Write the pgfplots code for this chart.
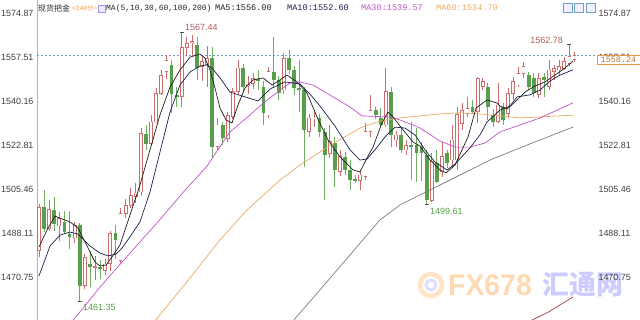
\documentclass[border=0pt]{standalone}
\usepackage{pgfplots}
\pgfplotsset{compat=1.18}
\usepackage{pgfplotstable}
\usepackage{fontspec}
\setmainfont{Liberation Sans}
\newfontfamily\cjk{Noto Sans CJK SC}
\newfontfamily\monof{Liberation Mono}
\definecolor{upred}{RGB}{206,108,108}
\definecolor{dngreen}{RGB}{88,158,76}
\definecolor{wickgreen}{RGB}{112,172,98}
\definecolor{maA}{RGB}{30,30,30}
\definecolor{maB}{RGB}{25,30,75}
\definecolor{maC}{RGB}{196,80,204}
\definecolor{maD}{RGB}{232,170,100}
\definecolor{maE}{RGB}{125,125,125}
\definecolor{maF}{RGB}{160,60,60}
\definecolor{hdrorange}{RGB}{238,150,60}
\definecolor{dashblue}{RGB}{110,160,200}

\pgfplotsset{candle/.style={only marks, mark=*, mark size=0pt, mark options={draw=none, fill=none}, forget plot,
  error bars/.cd, y dir=both, y explicit, error mark=none}}

\pgfplotstableread{
i o h l c
0 1481.3 1499.5 1478.6 1498.4
2 1489.9 1501.1 1489.2 1497.4
4 1491.0 1496.5 1485.0 1494.0
7 1486.3 1492.5 1484.1 1491.2
9 1467.5 1480.0 1466.2 1478.7
11 1474.7 1479.3 1469.5 1474.9
13 1473.5 1478.0 1471.5 1476.0
14 1476.2 1489.2 1473.4 1488.0
16 1477.4 1498.0 1476.6 1496.0
17 1496.0 1501.5 1494.0 1499.1
18 1499.1 1505.8 1497.9 1503.0
19 1502.5 1507.8 1500.0 1504.0
20 1504.4 1529.5 1503.0 1527.4
22 1523.5 1534.7 1522.5 1532.0
23 1532.0 1545.3 1531.5 1543.2
24 1543.2 1552.5 1542.5 1550.5
25 1551.8 1558.4 1549.0 1556.4
28 1542.0 1567.44 1538.0 1561.5
29 1561.3 1565.5 1558.4 1563.0
30 1563.3 1566.5 1558.0 1563.7
32 1553.8 1558.0 1548.0 1555.8
33 1554.8 1562.0 1546.0 1557.1
35 1522.3 1533.6 1521.0 1530.8
37 1525.5 1536.0 1524.0 1534.5
38 1534.1 1545.5 1533.0 1544.0
39 1544.0 1556.4 1543.0 1553.3
41 1546.5 1550.0 1543.0 1547.0
42 1547.3 1551.5 1545.0 1549.2
45 1534.8 1553.5 1533.6 1551.8
48 1544.6 1559.2 1543.0 1557.2
53 1528.2 1535.0 1526.0 1533.6
54 1533.2 1536.5 1530.0 1533.6
57 1519.7 1530.8 1518.0 1524.2
59 1512.4 1521.0 1510.7 1518.3
63 1509.1 1513.1 1505.2 1511.1
64 1510.4 1531.6 1509.0 1528.2
65 1528.2 1542.6 1526.0 1536.7
68 1530.8 1553.2 1530.0 1544.0
70 1524.9 1528.4 1522.3 1526.9
72 1521.0 1525.0 1519.0 1522.9
77 1501.2 1519.7 1500.6 1516.3
79 1512.4 1524.2 1510.4 1518.3
81 1517.0 1530.8 1514.4 1524.9
82 1517.0 1538.0 1513.1 1534.8
83 1531.5 1539.4 1528.8 1536.7
84 1535.4 1542.0 1534.1 1537.4
86 1536.1 1549.9 1531.5 1549.2
87 1545.9 1549.4 1544.6 1547.9
90 1532.1 1547.3 1531.5 1538.7
92 1535.4 1545.3 1533.5 1543.3
93 1543.3 1549.9 1540.7 1547.9
94 1546.6 1553.8 1545.9 1551.2
95 1551.2 1555.8 1549.2 1553.8
98 1542.7 1551.2 1541.4 1549.2
100 1545.9 1556.5 1544.6 1552.5
101 1551.8 1554.5 1548.6 1553.2
102 1552.5 1556.5 1550.5 1553.8
103 1553.2 1557.8 1552.5 1555.8
104 1555.2 1562.78 1554.0 1557.8
105 1556.5 1559.5 1555.5 1558.24
}\upc

\pgfplotstableread{
i o h l c
1 1498.4 1505.0 1488.5 1489.9
3 1497.4 1502.4 1489.2 1491.6
5 1492.5 1497.1 1487.9 1488.6
6 1488.0 1497.0 1482.0 1486.8
8 1491.2 1492.0 1461.35 1467.5
10 1476.0 1481.3 1466.8 1475.0
12 1474.8 1477.5 1470.0 1474.4
15 1488.1 1491.2 1478.0 1485.3
21 1527.4 1530.7 1520.8 1523.5
26 1554.4 1556.4 1535.5 1543.2
27 1542.5 1546.0 1538.0 1541.8
31 1562.3 1565.5 1548.5 1553.1
34 1557.1 1561.6 1517.8 1522.3
36 1530.8 1532.0 1523.0 1525.6
40 1553.3 1555.0 1543.5 1545.9
43 1548.8 1552.5 1544.6 1548.4
44 1545.9 1548.0 1530.8 1535.4
46 1551.8 1565.6 1546.0 1548.6
47 1548.6 1550.0 1540.7 1543.3
49 1557.2 1560.4 1551.0 1552.5
50 1552.5 1554.0 1542.7 1545.3
51 1545.3 1556.5 1536.1 1544.8
52 1544.6 1546.0 1514.4 1528.9
55 1533.6 1535.0 1526.0 1528.2
56 1528.2 1529.5 1501.2 1519.0
58 1523.7 1526.0 1506.5 1513.1
60 1518.3 1520.0 1511.0 1513.1
61 1513.1 1517.0 1505.2 1509.1
62 1509.3 1511.1 1507.9 1509.0
66 1536.7 1538.0 1533.0 1534.8
67 1533.6 1537.5 1530.0 1530.8
69 1544.0 1545.9 1522.3 1526.9
71 1526.9 1529.6 1519.8 1521.0
73 1522.9 1532.1 1509.1 1522.1
74 1522.9 1529.6 1508.5 1519.8
75 1522.3 1524.0 1508.7 1519.7
76 1519.0 1521.0 1499.61 1501.2
78 1515.8 1521.0 1507.8 1508.5
80 1519.7 1521.0 1514.0 1515.7
85 1537.8 1540.7 1535.4 1536.1
88 1545.9 1547.4 1532.8 1538.0
89 1534.8 1537.0 1530.0 1532.1
91 1538.0 1539.4 1530.8 1532.8
96 1550.5 1551.8 1544.6 1545.9
97 1549.2 1551.2 1542.0 1543.3
99 1549.9 1551.2 1542.0 1548.6
}\dnc

\pgfplotstableread{
x y
0 1482.7
1.76 1490.2
3.14 1494.9
4.12 1494.1
6.08 1492.6
7.65 1490.2
9.02 1484.7
10.98 1476.8
11.96 1475.2
13.14 1475.6
14.31 1478.8
15.88 1483.5
17.84 1495.3
19.8 1507.2
21.76 1521.0
23.73 1534.8
25.69 1545.8
27.65 1552.5
29.61 1557.6
31.57 1558.8
32.55 1557.2
33.53 1552.5
34.51 1545.4
35.49 1537.5
36.67 1532.8
37.84 1531.6
39.02 1538.7
40.39 1545.4
41.96 1548.6
43.92 1549.4
45.69 1546.6
47.25 1548.6
48.63 1550.5
50.59 1547.8
52.55 1543.4
54.51 1534.0
56.67 1524.9
59.02 1518.2
61.57 1513.1
62.94 1512.3
64.31 1517.8
65.49 1522.1
67.25 1531.6
68.43 1535.9
69.41 1534.0
71.37 1528.9
73.33 1524.1
74.71 1522.5
76.67 1517.0
78.63 1513.1
79.8 1511.9
81.57 1515.0
82.94 1521.0
84.12 1526.1
85.69 1537.5
87.84 1540.7
89.8 1539.5
90.39 1538.3
91.76 1537.1
93.33 1539.9
95.29 1543.8
97.25 1546.2
99.22 1547.8
101.18 1550.5
103.14 1553.3
104.71 1556.0
}\maFive

\pgfplotstableread{
x y
0 1471.3
2.16 1483.1
4.12 1487.4
6.08 1488.6
7.65 1487.8
10.0 1483.1
11.96 1480.3
13.53 1479.2
15.1 1479.9
16.27 1482.3
17.84 1486.7
19.8 1492.6
21.76 1504.4
23.73 1520.2
25.69 1535.9
27.65 1546.6
29.61 1551.7
31.57 1554.1
32.94 1554.5
33.92 1553.3
35.49 1549.4
37.45 1543.8
40.39 1541.9
42.94 1540.3
45.29 1545.0
48.24 1547.8
51.18 1547.0
53.14 1543.0
55.1 1538.3
58.04 1530.4
60.98 1521.0
62.94 1517.0
64.31 1517.4
65.88 1521.0
67.84 1526.1
69.8 1530.0
71.76 1529.6
73.73 1526.9
75.69 1521.0
77.65 1516.2
80.0 1513.1
81.57 1515.4
84.51 1521.8
86.47 1526.9
87.84 1532.0
90.39 1536.7
92.35 1538.3
93.73 1541.9
96.27 1542.7
98.24 1544.6
100.2 1548.2
102.16 1550.5
104.71 1552.6
}\maTen

\pgfplotstableread{
x y
6.08 1452.3
11.96 1466.9
17.84 1480.3
23.14 1492.2
29.02 1506.0
32.94 1514.6
37.45 1528.1
41.37 1534.8
44.71 1540.7
49.22 1547.4
51.18 1547.8
53.73 1546.6
57.65 1541.9
60.98 1537.9
63.33 1534.4
68.82 1534.0
70.78 1532.8
73.33 1530.8
74.71 1529.6
78.63 1524.5
81.57 1522.1
84.51 1522.1
87.45 1523.7
90.39 1528.1
94.31 1530.8
98.24 1533.6
101.18 1536.3
104.71 1539.57
}\maThirty

\pgfplotstableread{
x y
22.55 1453.1
29.61 1470.5
35.49 1485.5
40.78 1497.3
47.25 1509.1
51.18 1515.0
56.86 1522.5
62.94 1529.6
66.86 1532.4
70.78 1533.6
74.71 1534.4
78.63 1535.2
82.55 1535.6
86.47 1535.2
90.39 1534.4
94.31 1533.6
98.24 1534.0
104.71 1534.7
}\maSixty

\pgfplotstableread{
x y
49.61 1453.1
55.1 1465.8
60.98 1479.6
66.86 1493.4
70.78 1499.3
76.67 1505.2
82.55 1511.1
88.43 1517.0
94.31 1521.8
99.22 1525.7
104.71 1530.0
}\maHundred

\pgfplotstableread{
x y
95.88 1453.1
100.0 1457.2
104.71 1463.0
}\maTwoHundred

\begin{document}
\begin{tikzpicture}[x=1bp,y=1bp]
\useasboundingbox (-37bp,0) rectangle (603bp,320bp);
% watermark
\draw[line width=4.5bp, color=orange!22] (394,35) circle (11);
\draw[line width=3bp, color=blue!13] (394,35) circle (5);
\node[font=\bfseries\fontsize{30}{30}\selectfont, text=orange!30, xscale=0.95] at (453,35) {FX678};
\node[font=\cjk\bfseries\fontsize{27}{27}\selectfont, text=blue!20] at (546,35) {汇通网};

\begin{axis}[
  at={(0,0)}, anchor=south west, scale only axis,
  width=558bp, height=320bp,
  xmin=-0.392, xmax=109.02, ymin=1453.92, ymax=1580.115,
  axis x line=none,
  axis y line*=left,
  y axis line style={draw=black!30, line width=0.6bp, -},
  ytick={1470.75,1488.11,1505.46,1522.81,1540.16,1557.51,1574.87},
  yticklabels={1470.75,1488.11,1505.46,1522.81,1540.16,1557.51,1574.87},
  major tick length=0pt,
  yticklabel style={font=\fontsize{9}{9}\selectfont, text=black!75},
]
% current price line
\draw[dashblue, dash pattern=on 2bp off 2bp, line width=0.6bp] (axis cs:-0.392,1558.24) -- (axis cs:109.02,1558.24);
% up candles
\addplot[candle, error bar style={draw=upred, line width=0.8bp}]
  table[x=i, y expr={(\thisrow{h}+\thisrow{l})/2}, y error expr={(\thisrow{h}-\thisrow{l})/2}] {\upc};
\addplot[candle, error bar style={draw=upred, line width=3.8bp}]
  table[x=i, y expr={(\thisrow{o}+\thisrow{c})/2}, y error expr={abs(\thisrow{c}-\thisrow{o})/2+0.16}] {\upc};
\addplot[candle, error bar style={draw=white, line width=2.2bp}]
  table[x=i, y expr={(\thisrow{o}+\thisrow{c})/2}, y error expr={max(abs(\thisrow{c}-\thisrow{o})/2-0.16,0.001)}] {\upc};
% down candles
\addplot[candle, error bar style={draw=wickgreen, line width=0.8bp}]
  table[x=i, y expr={(\thisrow{h}+\thisrow{l})/2}, y error expr={(\thisrow{h}-\thisrow{l})/2}] {\dnc};
\addplot[candle, error bar style={draw=dngreen, line width=3.8bp}]
  table[x=i, y expr={(\thisrow{o}+\thisrow{c})/2}, y error expr={max(abs(\thisrow{c}-\thisrow{o})/2,0.25)}] {\dnc};
% moving averages
\addplot[maF, line width=0.7bp, mark=none] table[x=x,y=y] {\maTwoHundred};
\addplot[maE, line width=0.7bp, mark=none] table[x=x,y=y] {\maHundred};
\addplot[maD, line width=0.7bp, mark=none] table[x=x,y=y] {\maSixty};
\addplot[maC, line width=0.7bp, mark=none] table[x=x,y=y] {\maThirty};
\addplot[maB, line width=0.7bp, mark=none] table[x=x,y=y] {\maTen};
\addplot[maA, line width=0.7bp, mark=none] table[x=x,y=y] {\maFive};
% extreme annotations
\draw[black!70, line width=0.6bp] (axis cs:27.6,1567.44) -- (axis cs:28.4,1567.44);
\node[anchor=west, inner sep=0pt, text=upred!85!black, font=\fontsize{9}{9}\selectfont] at (axis cs:28.63,1569.47) {1567.44};
\draw[black!70, line width=0.6bp] (axis cs:7.6,1461.35) -- (axis cs:8.4,1461.35);
\node[anchor=west, inner sep=0pt, text=dngreen, font=\fontsize{9}{9}\selectfont] at (axis cs:8.63,1459.0) {1461.35};
\draw[black!70, line width=0.6bp] (axis cs:75.6,1499.61) -- (axis cs:76.4,1499.61);
\node[anchor=west, inner sep=0pt, text=dngreen, font=\fontsize{9}{9}\selectfont] at (axis cs:76.67,1496.7) {1499.61};
\draw[black!70, line width=0.6bp] (axis cs:103.6,1562.78) -- (axis cs:104.4,1562.78);
\node[anchor=east, inner sep=0pt, text=upred!85!black, font=\fontsize{9}{9}\selectfont] at (axis cs:102.75,1564.34) {1562.78};
\end{axis}

\begin{axis}[
  at={(0,0)}, anchor=south west, scale only axis,
  width=558bp, height=320bp,
  xmin=-0.392, xmax=109.02, ymin=1453.92, ymax=1580.115,
  axis x line=none,
  axis y line*=right,
  y axis line style={draw=none},
  ytick={1470.75,1488.11,1505.46,1522.81,1540.16,1557.51,1574.87},
  yticklabels={1470.75,1488.11,1505.46,1522.81,1540.16,1557.51,1574.87},
  major tick length=0pt,
  yticklabel style={font=\fontsize{9}{9}\selectfont, text=black!75},
]
\addplot[draw=none, mark=none] coordinates {(0,1500)};
\end{axis}

% current price box
\node[draw=hdrorange, fill=white, inner sep=0pt, minimum width=43bp, minimum height=9bp, text=hdrorange!80!black, font=\monof\fontsize{8.5}{8.5}\selectfont] at (581.5,260) {1558.24};

% header
\node[anchor=west, inner sep=0pt, font=\cjk\fontsize{8}{8}\selectfont, text=black!85] at (1,312) {现货把金};
\node[anchor=west, inner sep=0pt, font=\monof\fontsize{6.3}{6.3}\selectfont, text=hdrorange] at (35,312) {<240{\cjk 分}>};
\draw[draw=blue!40, fill=blue!8, line width=0.5bp] (61,308) rectangle (68,315);
\node[anchor=west, inner sep=0pt, font=\monof\fontsize{8}{8}\selectfont, text=black!85] at (69,312) {MA(5,10,30,60,100,200)};
\node[anchor=west, inner sep=0pt, font=\monof\fontsize{8.6}{8.6}\selectfont, text=maA] at (178,312) {MA5:1556.00};
\node[anchor=west, inner sep=0pt, font=\monof\fontsize{8.6}{8.6}\selectfont, text=maB] at (250,312) {MA10:1552.60};
\node[anchor=west, inner sep=0pt, font=\monof\fontsize{8.6}{8.6}\selectfont, text=maC] at (324,312) {MA30:1539.57};
\node[anchor=west, inner sep=0pt, font=\monof\fontsize{8.6}{8.6}\selectfont, text=maD] at (399,312) {MA60:1534.70};
% toolbar icons
\foreach \xx in {526,537,549} {
  \draw[draw=dashblue, fill=blue!6, line width=0.5bp] (\xx,308) rectangle ++(9,9);
}
\end{tikzpicture}
\end{document}
